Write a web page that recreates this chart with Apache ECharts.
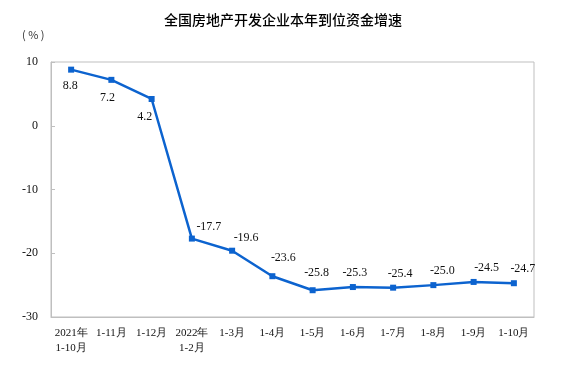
<!DOCTYPE html>
<html><head><meta charset="utf-8">
<script src="https://cdn.jsdelivr.net/npm/echarts@6/dist/echarts.min.js"></script>
<style>html,body{margin:0;padding:0;background:#fff}#c{width:574px;height:369px}</style>
</head><body><div id="c"></div>
<script>
var categories = ['2021年\n1-10月','1-11月','1-12月','2022年\n1-2月','1-3月','1-4月','1-5月','1-6月','1-7月','1-8月','1-9月','1-10月'];
var values = [8.8, 7.2, 4.2, -17.7, -19.6, -23.6, -25.8, -25.3, -25.4, -25.0, -24.5, -24.7];
var yTicks = [-30, -20, -10, 0, 10];
// label placement (style only)
var labelPos = ['bottom','bottom','bottom','top','top','top','top','top','top','top','top','top'];
var labelOff = [[-1,2],[-4,4],[-7,4],[17,2],[14,1],[11,-4],[4,-3],[2,0],[7,0],[9,0],[13,0],[9,0]];

var serif = '"Liberation Serif","Times New Roman",serif';
var chart = echarts.init(document.getElementById('c'));
chart.setOption({
  animation:false,
  title:{text:'全国房地产开发企业本年到位资金增速', left:278, textAlign:'center', top:8,
    textStyle:{fontFamily:'"Noto Sans CJK SC"', fontSize:14, fontWeight:500, color:'#000'}},
  graphic:[{type:'text', left:22, top:29, style:{text:'( % )', font:'11px "Noto Sans CJK SC"', fill:'#333'}},
    {type:'rect', shape:{x:51,y:62,width:483,height:255}, style:{fill:'none', stroke:'#bfbfbf', lineWidth:1}, silent:true}],
  grid:{left:51, right:40, top:62, bottom:52},
  xAxis:{type:'category', data:categories, boundaryGap:true,
    axisLine:{onZero:false, lineStyle:{color:'#bfbfbf'}},
    axisTick:{inside:true, length:4, lineStyle:{color:'#bfbfbf'}},
    axisLabel:{interval:0, margin:9, fontSize:11, lineHeight:15, color:'#111', fontFamily:serif}},
  yAxis:{type:'value', min:yTicks[0], max:yTicks[yTicks.length-1], interval:10,
    splitLine:{show:false},
    axisLine:{show:true, lineStyle:{color:'#bfbfbf'}},
    axisTick:{show:true, inside:true, length:4, lineStyle:{color:'#bfbfbf'}},
    axisLabel:{margin:13, fontSize:12, color:'#111', fontFamily:serif}},
  series:[{type:'line', data:values.map(function(v,i){
      return {value:v, label:{position:labelPos[i], offset:labelOff[i]}};
    }),
    symbol:'rect', symbolSize:6, lineStyle:{color:'#0c63cf', width:2.5},
    itemStyle:{color:'#0c63cf'},
    label:{show:true, fontSize:12, color:'#111', fontFamily:serif,
      formatter:function(p){return p.value.toFixed(1);}}}]
});
</script></body></html>
